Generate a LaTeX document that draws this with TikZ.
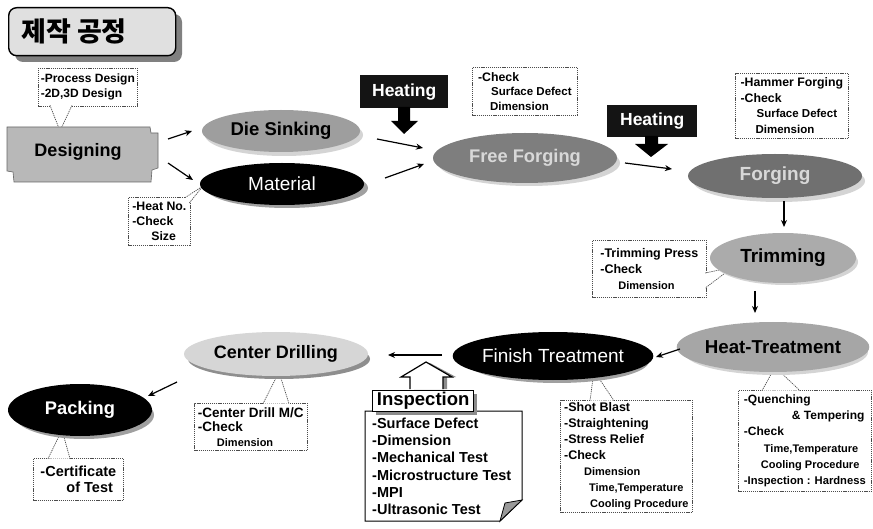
\documentclass[tikz,border=0pt]{standalone}
\usepackage{fontspec}
\setmainfont{Liberation Sans}
\newfontfamily\krfont{Noto Sans CJK KR}
\usetikzlibrary{shapes.geometric,arrows.meta}
\newcommand\fsz[1]{\fontsize{#1}{#1}\selectfont}
\newcommand\fszl[2]{\fontsize{#1}{#2}\selectfont}
\definecolor{titlegray}{HTML}{E0E0E0}
\definecolor{shadowgray}{HTML}{808080}
\definecolor{desgray}{HTML}{B8B8B8}
\definecolor{dsgray}{HTML}{9E9E9E}
\definecolor{lipgray}{HTML}{D4D4D4}
\definecolor{blacklip}{HTML}{A0A0A0}
\definecolor{ffgray}{HTML}{7E7E7E}
\definecolor{fftext}{HTML}{D8D8D8}
\definecolor{fgray}{HTML}{707070}
\definecolor{trgray}{HTML}{ABABAB}
\definecolor{htgray}{HTML}{A6A6A6}
\definecolor{cdgray}{HTML}{D6D6D6}
\definecolor{cdlip}{HTML}{8E8E8E}
\begin{document}
\begin{tikzpicture}[x=1pt,y=-1pt,
  ell/.style={ellipse, inner sep=0pt},
  arr/.style={-{Stealth[length=7pt,width=6pt]}, line width=1.2pt},
  cbox/.style={draw=black!70, dash pattern=on 1.2pt off 0.9pt, line width=0.7pt, fill=white, anchor=north west, align=left, inner sep=0pt},
  ptr/.style={draw=black!70, dash pattern=on 1.2pt off 0.9pt, line width=0.7pt, fill=white},
  heatbox/.style={fill=black!92, text=white, anchor=north west, inner sep=0pt, font=\bfseries\fsz{17.5}},
]
\useasboundingbox (0,0) rectangle (873,529);

% ---------- title ----------
\fill[shadowgray, rounded corners=8pt] (15,14) rectangle (182,62);
\node[draw, line width=1.4pt, rounded corners=8pt, fill=titlegray, anchor=north west, minimum width=167pt, minimum height=48pt, inner sep=0pt] (titlebox) at (8,7) {};
\node[font=\krfont\bfseries\fsz{27}, inner sep=0pt] (title) at (74,31) {제작 공정};

% ---------- callout boxes ----------
\node[cbox, minimum width=99pt, minimum height=38pt, font=\bfseries\fszl{12}{15}] (c1) at (38,68) {-Process Design\\-2D,3D Design};
\node[cbox, minimum width=62pt, minimum height=48pt, font=\bfseries\fszl{12.3}{15}] (cheat) at (128,197) {-Heat No.\\-Check\\\hspace*{19pt}Size};
\node[cbox, minimum width=105pt, minimum height=48pt, font=\bfseries\fszl{11.5}{14.5}] (cff) at (472,67) {{\fsz{12.3}-Check}\\\hspace*{13pt}Surface Defect\\\hspace*{12pt}Dimension};
\node[cbox, minimum width=113pt, minimum height=65pt, font=\bfseries\fszl{11.5}{15.5}] (cham) at (735,73) {{\fsz{12.3}-Hammer Forging}\\{\fsz{12.3}-Check}\\\hspace*{16pt}Surface Defect\\\hspace*{15pt}Dimension};
\node[cbox, minimum width=114pt, minimum height=57pt, font=\bfseries\fszl{12.5}{16}] (ctrim) at (592,240) {-Trimming Press\\-Check\\\hspace*{18pt}{\fsz{11}Dimension}};
\node[cbox, minimum width=133pt, minimum height=101pt, font=\bfseries\fszl{12}{16.2}] (cht) at (738,390) {-Quenching\\\hspace*{48pt}\& Tempering\\-Check\\\hspace*{20pt}{\fsz{11}Time,Temperature}\\\hspace*{17pt}{\fsz{11}Cooling Procedure}\\{\fsz{11.2}-Inspection : Hardness}};
\node[cbox, minimum width=132pt, minimum height=112pt, font=\bfseries\fszl{12.5}{16}] (cfin) at (560,400) {-Shot Blast\\-Straightening\\-Stress Relief\\-Check\\\hspace*{20pt}{\fsz{11}Dimension}\\\hspace*{25pt}{\fsz{11}Time,Temperature}\\\hspace*{26pt}{\fsz{11}Cooling Procedure}};
\node[cbox, minimum width=113pt, minimum height=47pt, font=\bfseries\fszl{13.5}{14.5}] (ccd) at (194,403) {-Center Drill M/C\\-Check\\\hspace*{19pt}{\fsz{11}Dimension}};
\node[cbox, minimum width=90pt, minimum height=42pt, font=\bfseries\fszl{14.5}{16}] (cpack) at (33,458) {-Certificate\\\hspace*{26pt}of Test};

% ---------- callout pointers ----------
\coordinate (c1tip) at (60,131);
\path[ptr] (50,105.3) -- (c1tip) -- (72,105.3);
\coordinate (cheattip) at (203,186);
\path[ptr] (185,197.7) -- (cheattip) -- (189.3,203);
\coordinate (ctrimtip) at (733,267);
\path[ptr] (705.3,273) -- (ctrimtip) -- (705.3,288);
\coordinate (chttip) at (775,367);
\path[ptr] (762,390.7) -- (chttip) -- (800,390.7);
\coordinate (cfintip) at (594,371);
\path[ptr] (590,400.7) -- (cfintip) -- (614,400.7);
\coordinate (ccdtip) at (279,372);
\path[ptr] (263,403.7) -- (ccdtip) -- (289,403.7);
\coordinate (cpacktip) at (62,430);
\path[ptr] (48,458.7) -- (cpacktip) -- (70,458.7);

% ---------- Designing ----------
\filldraw[fill=desgray, draw=black!60, line width=0.6pt] (7,127) -- (150,127) -- (151,133) -- (158,133) -- (158,168) -- (152,170) -- (151,182) -- (14,182) -- (13,172) -- (7,171) -- cycle;
\node[font=\bfseries\fsz{18}] (design) at (78,152) {Designing};

% ---------- process ellipses ----------
\fill[lipgray] (284,135) ellipse [x radius=79pt, y radius=21pt];
\node[ell, fill=dsgray, minimum width=158pt, minimum height=42pt, font=\bfseries\fsz{18.5}] (die) at (281,131) {Die Sinking};

\fill[blacklip] (287,188) ellipse [x radius=81pt, y radius=20pt];
\node[ell, fill=black, text=white, minimum width=164pt, minimum height=42pt, font=\fsz{19}] (material) at (282,184) {Material};

\fill[lipgray] (529,163) ellipse [x radius=91pt, y radius=23pt];
\node[ell, fill=ffgray, text=fftext, minimum width=184pt, minimum height=50pt, font=\bfseries\fsz{18.3}] (ff) at (525,158) {Free Forging};

\fill[lipgray] (779,181) ellipse [x radius=86pt, y radius=21pt];
\node[ell, fill=fgray, text=fftext, minimum width=174pt, minimum height=44pt, font=\bfseries\fsz{19}] (forging) at (775,176) {Forging};

\fill[lipgray] (786,262) ellipse [x radius=72pt, y radius=23pt];
\node[ell, fill=trgray, minimum width=146pt, minimum height=50pt, font=\bfseries\fsz{19}] (trim) at (783,258) {Trimming};

\fill[lipgray] (776,352) ellipse [x radius=92pt, y radius=23pt];
\node[ell, fill=htgray, minimum width=186pt, minimum height=50pt, font=\bfseries\fsz{18.7}] (ht) at (773,347) {Heat-Treatment};

\fill[blacklip] (557,361) ellipse [x radius=92pt, y radius=22pt];
\node[ell, fill=black, text=white, minimum width=188pt, minimum height=48pt, font=\fsz{19}] (fin) at (553,356) {Finish Treatment};

\fill[cdlip] (279,359) ellipse [x radius=91pt, y radius=20pt];
\node[ell, fill=cdgray, minimum width=184pt, minimum height=44pt, font=\bfseries\fsz{18}] (cd) at (276,354) {Center Drilling};

\fill[blacklip] (84,415) ellipse [x radius=70pt, y radius=24pt];
\node[ell, fill=black, text=white, minimum width=144pt, minimum height=52pt, font=\bfseries\fsz{18.3}] (pack) at (80,410) {Packing};

% ---------- heating ----------
\node[heatbox, minimum width=88pt, minimum height=33pt] (heat1) at (360,75) {Heating};
\fill[black] (398,107) -- (410,107) -- (410,121) -- (418,121) -- (404,134) -- (391,121) -- (398,121) -- cycle;
\node[heatbox, minimum width=90pt, minimum height=32pt] (heat2) at (607,105) {Heating};
\fill[black] (645,136) -- (658,136) -- (658,144) -- (668,144) -- (651,157) -- (635,144) -- (645,144) -- cycle;

% ---------- inspection ----------
\filldraw[fill=white, draw=black, line width=1pt] (365,411) -- (522,411) -- (522,500) -- (500,521) -- (365,521) -- cycle;
\filldraw[fill=black!40, draw=black, line width=0.8pt] (500,521) -- (505,503) -- (522,500) -- cycle;
\node[anchor=north west, inner sep=0pt, align=left, font=\bfseries\fszl{14.5}{17.3}] (insplist) at (372,417.5) {-Surface Defect\\-Dimension\\-Mechanical Test\\-Microstructure Test\\-MPI\\-Ultrasonic Test};
\fill[black!45] (376,394) rectangle (477,415);
\node[draw, line width=1.3pt, fill=white, anchor=north west, minimum width=101pt, minimum height=21pt, inner sep=0pt, font=\bfseries\fsz{18.5}] (insp) at (372,390) {Inspection};
\fill[black!45] (414,389) -- (414,377) -- (405,377) -- (430,363) -- (456,377) -- (447,377) -- (447,389) -- cycle;
\filldraw[fill=white, draw=black, line width=1.2pt] (410,389) -- (410,377) -- (401,377) -- (426,362) -- (452,377) -- (443,377) -- (443,389);

% ---------- flow arrows ----------
\coordinate (a1s) at (168,139); \coordinate (a1e) at (192,131);
\coordinate (a2s) at (168,163); \coordinate (a2e) at (193,180);
\coordinate (a3s) at (377,139); \coordinate (a3e) at (423,148);
\coordinate (a4s) at (385,178); \coordinate (a4e) at (424,164);
\coordinate (a5s) at (625,163); \coordinate (a5e) at (672,169);
\coordinate (a6s) at (784,201); \coordinate (a6e) at (784,227);
\coordinate (a7s) at (755,291); \coordinate (a7e) at (755,313);
\coordinate (a8s) at (680,349); \coordinate (a8e) at (656,357);
\coordinate (a9s) at (442,355); \coordinate (a9e) at (388,355);
\coordinate (a10s) at (177,382); \coordinate (a10e) at (148,396);
\foreach \i in {1,...,10} {\draw[arr] (a\i s) -- (a\i e);}
\end{tikzpicture}
\end{document}
